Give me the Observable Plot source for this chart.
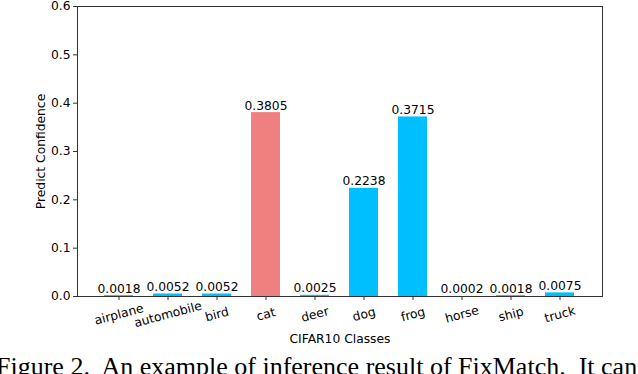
<!DOCTYPE html>
<html>
<head>
<meta charset="utf-8">
<script src="https://cdn.jsdelivr.net/npm/d3@7"></script>
<script src="https://cdn.jsdelivr.net/npm/@observablehq/plot@0.6"></script>
<style>
  html, body { margin: 0; padding: 0; background: #fff; overflow: hidden; }
  #wrap { position: relative; width: 638px; height: 374px; overflow: hidden; }
  #caption {
    position: absolute; left: -4px; top: 354px;
    font-family: "Liberation Serif", "DejaVu Serif", serif;
    font-size: 26px; line-height: 1; white-space: pre; color: #000;
  }
</style>
</head>
<body>
<div id="wrap">
  <div id="chart"></div>
  <div id="caption">Figure 2.  An example of inference result of FixMatch.  It can</div>
</div>
<script>
const categories = ["airplane", "automobile", "bird", "cat", "deer", "dog", "frog", "horse", "ship", "truck"];
const confidence = [0.0018, 0.0052, 0.0052, 0.3805, 0.0025, 0.2238, 0.3715, 0.0002, 0.0018, 0.0075];
const highlighted = "cat";
const yTicks = [0, 0.1, 0.2, 0.3, 0.4, 0.5, 0.6];
const xTitle = "CIFAR10 Classes";
const yTitle = "Predict Confidence";

const data = categories.map((c, i) => ({cls: c, value: confidence[i]}));
const fs = 12.3;

const chart = Plot.plot({
  width: 638,
  height: 350,
  marginTop: 6,
  marginBottom: 54,
  marginLeft: 77,
  marginRight: 36,
  style: {fontFamily: "'DejaVu Sans', sans-serif", fontSize: fs + "px", color: "#000", background: "#fff"},
  x: {type: "band", domain: categories, paddingInner: 0.4, paddingOuter: 0.48, align: 0.5},
  y: {domain: [0, 0.6]},
  marks: [
    Plot.barY(data, {x: "cls", y: "value", fill: d => d.cls === highlighted ? "#F08080" : "#00BFFF"}),
    Plot.text(data, {x: "cls", y: "value", text: d => d.value.toFixed(4), lineAnchor: "bottom", dy: -3, fill: "#000", fontSize: fs}),
    Plot.frame({stroke: "#333", strokeWidth: 1}),
    Plot.axisY({ticks: yTicks, tickFormat: d3.format(".1f"), tickSize: 4, tickPadding: 3, label: null, stroke: "#333", fill: "#000", fontSize: fs}),
    Plot.axisX({tickSize: 4, tickFormat: () => "", label: null, stroke: "#333"}),
    Plot.text(categories, {x: d => d, frameAnchor: "bottom", dy: 18, rotate: -15, textAnchor: "middle", lineAnchor: "middle", fill: "#000", fontSize: fs}),
    Plot.text([xTitle], {frameAnchor: "bottom", dy: 43, textAnchor: "middle", lineAnchor: "middle", fill: "#000", fontSize: fs}),
    Plot.text([yTitle], {frameAnchor: "left", dx: -36, rotate: -90, textAnchor: "middle", lineAnchor: "middle", fill: "#000", fontSize: fs})
  ]
});
document.getElementById("chart").appendChild(chart);
</script>
</body>
</html>
